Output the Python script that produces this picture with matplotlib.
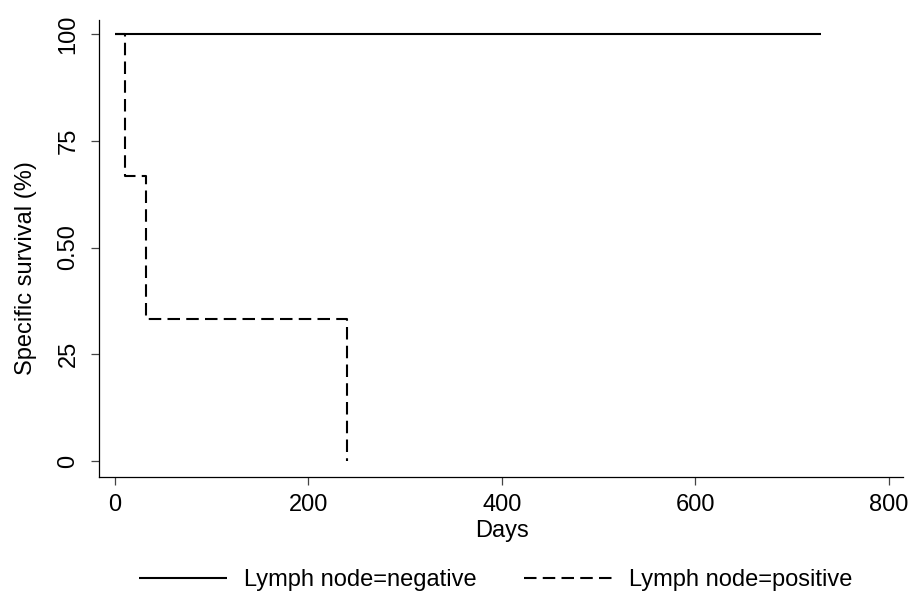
import matplotlib.pyplot as plt

plt.rcParams['font.family'] = ['Liberation Sans', 'DejaVu Sans']

# Kaplan-Meier curves
days_neg = [0, 730]
surv_neg = [100, 100]

days_pos = [0, 10, 32, 240]
surv_pos = [100, 66.67, 33.33, 0]

xticks = [0, 200, 400, 600, 800]
yticks = [0, 25, 50, 75, 100]
ytick_labels = ["0", "25", "0.50", "75", "100"]

fig = plt.figure(figsize=(9.11, 5.92), dpi=100)
W, H = 911, 592
ax = fig.add_axes([99 / W, (H - 477) / H, (903 - 99) / W, (477 - 20) / H])

ax.plot(days_neg, surv_neg, color='black', lw=1.5, solid_capstyle='butt',
        label='Lymph node=negative')
ax.plot(days_pos, surv_pos, color='black', lw=1.5, drawstyle='steps-post',
        dashes=(6, 3), label='Lymph node=positive')

ax.set_xlim(-16.5, 814.5)
ax.set_ylim(-3.75, 103.3)

ax.spines['top'].set_visible(False)
ax.spines['right'].set_visible(False)
for s in ['left', 'bottom']:
    ax.spines[s].set_linewidth(0.9)

ax.set_xticks(xticks)
ax.set_yticks(yticks)
ax.set_yticklabels(ytick_labels, rotation=90, va='center')
ax.tick_params(axis='both', labelsize=17, length=6, width=0.9, color='#444444')
ax.tick_params(axis='x', pad=6)
ax.tick_params(axis='y', pad=8)

ax.set_xlabel('Days', fontsize=17)
ax.xaxis.set_label_coords(0.501, -0.093)
ax.set_ylabel('Specific survival (%)', fontsize=17)
ax.yaxis.set_label_coords(-0.077, 0.458)

fig.legend(loc='center', bbox_to_anchor=(496 / W, 1 - 580 / H), ncol=2,
           frameon=False, fontsize=17, handlelength=3.7, handletextpad=0.75,
           columnspacing=2.0)

fig.savefig('out.png', dpi=100)
